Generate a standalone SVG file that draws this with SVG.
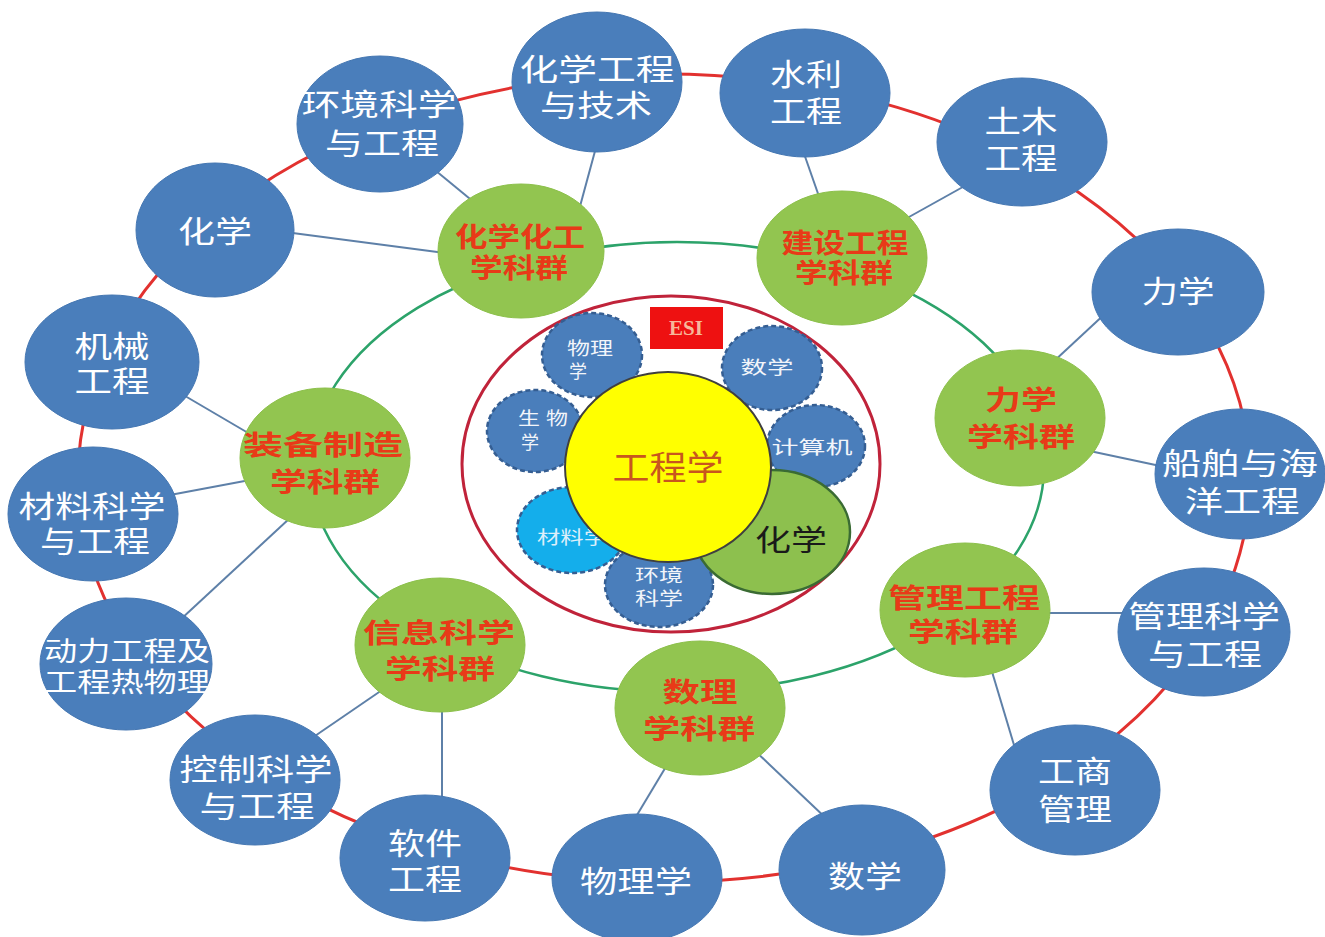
<svg xmlns="http://www.w3.org/2000/svg" width="1325" height="937" viewBox="0 0 1325 937">
<style>
.bg{fill:#ffffff}
.ring-red{fill:none;stroke:#E2312F;stroke-width:3}
.ring-green{fill:none;stroke:#2CA36A;stroke-width:2.5}
.link{stroke:#5E80A8;stroke-width:2;fill:none}
.blue{fill:#4A7EBB;stroke:#4577B2;stroke-width:1}
.green{fill:#92C550;stroke:#8CC04B;stroke-width:1}
.dash{fill:#4A7EBB;stroke:#355E92;stroke-width:2.5;stroke-dasharray:5 3}
.dash2{fill:#14AEEB;stroke:#355E92;stroke-width:2.5;stroke-dasharray:5 3}
.esi-ring{fill:none;stroke:#C0233A;stroke-width:3}
text{font-family:"Liberation Sans","Noto Sans CJK SC",sans-serif;dominant-baseline:central;text-anchor:middle}
.tb{fill:#ffffff;font-size:30px}
.tg{fill:#E83A18;font-size:27px;font-weight:bold}
.ts{fill:#F2F5FA;font-size:18px}
</style>
<rect class="bg" x="0" y="0" width="1325" height="937"/>
<g id="connectors">
  <ellipse class="ring-red" cx="664" cy="478" rx="586" ry="404"/>
  <ellipse class="ring-green" cx="677" cy="467" rx="367" ry="225"/>
  <line class="link" x1="285" y1="232" x2="445" y2="253"/>
  <line class="link" x1="430" y1="166" x2="475" y2="203"/>
  <line class="link" x1="598" y1="140" x2="579" y2="210"/>
  <line class="link" x1="801" y1="145" x2="822" y2="205"/>
  <line class="link" x1="970" y1="183" x2="900" y2="222"/>
  <line class="link" x1="1108" y1="311" x2="1052" y2="363"/>
  <line class="link" x1="1085" y1="450" x2="1165" y2="467"/>
  <line class="link" x1="1040" y1="613" x2="1128" y2="613"/>
  <line class="link" x1="990" y1="665" x2="1017" y2="755"/>
  <line class="link" x1="670" y1="760" x2="634" y2="820"/>
  <line class="link" x1="752" y1="748" x2="830" y2="822"/>
  <line class="link" x1="385" y1="688" x2="312" y2="738"/>
  <line class="link" x1="442" y1="705" x2="442" y2="800"/>
  <line class="link" x1="180" y1="393" x2="255" y2="437"/>
  <line class="link" x1="170" y1="495" x2="250" y2="480"/>
  <line class="link" x1="180" y1="620" x2="290" y2="518"/>
</g>
<g id="n-huanjing"><ellipse class="blue" cx="380" cy="124" rx="83" ry="68"/><text class="tb"><tspan x="379" y="104" textLength="155" lengthAdjust="spacingAndGlyphs">环境科学</tspan><tspan x="382" y="143" textLength="114" lengthAdjust="spacingAndGlyphs">与工程</tspan></text></g>
<g id="n-huagong"><ellipse class="blue" cx="597" cy="82" rx="85" ry="70"/><text class="tb"><tspan x="597" y="69" textLength="155" lengthAdjust="spacingAndGlyphs">化学工程</tspan><tspan x="596" y="105" textLength="112" lengthAdjust="spacingAndGlyphs">与技术</tspan></text></g>
<g id="n-shuili"><ellipse class="blue" cx="805" cy="93" rx="85" ry="64"/><text class="tb"><tspan x="806" y="74" textLength="72" lengthAdjust="spacingAndGlyphs">水利</tspan><tspan x="806" y="111" textLength="72" lengthAdjust="spacingAndGlyphs">工程</tspan></text></g>
<g id="n-tumu"><ellipse class="blue" cx="1022" cy="142" rx="85" ry="64"/><text class="tb"><tspan x="1021" y="121" textLength="73" lengthAdjust="spacingAndGlyphs">土木</tspan><tspan x="1021" y="158" textLength="73" lengthAdjust="spacingAndGlyphs">工程</tspan></text></g>
<g id="n-lixue"><ellipse class="blue" cx="1178" cy="292" rx="86" ry="63"/><text class="tb" x="1178" y="291" textLength="73" lengthAdjust="spacingAndGlyphs">力学</text></g>
<g id="n-chuanbo"><ellipse class="blue" cx="1240" cy="474" rx="85" ry="65"/><text class="tb"><tspan x="1240" y="463" textLength="156" lengthAdjust="spacingAndGlyphs">船舶与海</tspan><tspan x="1242" y="501" textLength="115" lengthAdjust="spacingAndGlyphs">洋工程</tspan></text></g>
<g id="n-guanlikx"><ellipse class="blue" cx="1204" cy="632" rx="86" ry="64"/><text class="tb"><tspan x="1204" y="616" textLength="152" lengthAdjust="spacingAndGlyphs">管理科学</tspan><tspan x="1205" y="654" textLength="114" lengthAdjust="spacingAndGlyphs">与工程</tspan></text></g>
<g id="n-gongshang"><ellipse class="blue" cx="1075" cy="790" rx="85" ry="65"/><text class="tb"><tspan x="1075" y="771" textLength="74" lengthAdjust="spacingAndGlyphs">工商</tspan><tspan x="1075" y="809" textLength="74" lengthAdjust="spacingAndGlyphs">管理</tspan></text></g>
<g id="n-shuxue"><ellipse class="blue" cx="862" cy="870" rx="83" ry="65"/><text class="tb" x="865" y="876" textLength="74" lengthAdjust="spacingAndGlyphs">数学</text></g>
<g id="n-wulixue"><ellipse class="blue" cx="637" cy="878" rx="85" ry="64"/><text class="tb" x="636" y="881" textLength="112" lengthAdjust="spacingAndGlyphs">物理学</text></g>
<g id="n-ruanjian"><ellipse class="blue" cx="425" cy="858" rx="85" ry="63"/><text class="tb"><tspan x="425" y="843" textLength="74" lengthAdjust="spacingAndGlyphs">软件</tspan><tspan x="425" y="879" textLength="74" lengthAdjust="spacingAndGlyphs">工程</tspan></text></g>
<g id="n-kongzhi"><ellipse class="blue" cx="255" cy="780" rx="85" ry="65"/><text class="tb"><tspan x="256" y="769" textLength="153" lengthAdjust="spacingAndGlyphs">控制科学</tspan><tspan x="257" y="806" textLength="115" lengthAdjust="spacingAndGlyphs">与工程</tspan></text></g>
<g id="n-dongli"><ellipse class="blue" cx="126" cy="664" rx="86" ry="66"/><text class="tb" style="font-size:27px"><tspan x="127" y="652" textLength="166" lengthAdjust="spacingAndGlyphs">动力工程及</tspan><tspan x="127" y="683" textLength="166" lengthAdjust="spacingAndGlyphs">工程热物理</tspan></text></g>
<g id="n-cailiao"><ellipse class="blue" cx="93" cy="514" rx="85" ry="67"/><text class="tb"><tspan x="92" y="506" textLength="147" lengthAdjust="spacingAndGlyphs">材料科学</tspan><tspan x="95" y="541" textLength="110" lengthAdjust="spacingAndGlyphs">与工程</tspan></text></g>
<g id="n-jixie"><ellipse class="blue" cx="112" cy="362" rx="87" ry="67"/><text class="tb"><tspan x="112" y="346" textLength="75" lengthAdjust="spacingAndGlyphs">机械</tspan><tspan x="112" y="381" textLength="75" lengthAdjust="spacingAndGlyphs">工程</tspan></text></g>
<g id="n-huaxue"><ellipse class="blue" cx="215" cy="230" rx="79" ry="67"/><text class="tb" x="215" y="231" textLength="74" lengthAdjust="spacingAndGlyphs">化学</text></g>

<g id="g-huahua"><ellipse class="green" cx="521" cy="251" rx="83" ry="67"/><text class="tg"><tspan x="520" y="238" textLength="130" lengthAdjust="spacingAndGlyphs">化学化工</tspan><tspan x="519" y="269" textLength="98" lengthAdjust="spacingAndGlyphs">学科群</tspan></text></g>
<g id="g-jianshe"><ellipse class="green" cx="842" cy="258" rx="85" ry="67"/><text class="tg"><tspan x="845" y="244" textLength="127" lengthAdjust="spacingAndGlyphs">建设工程</tspan><tspan x="844" y="274" textLength="98" lengthAdjust="spacingAndGlyphs">学科群</tspan></text></g>
<g id="g-lixue"><ellipse class="green" cx="1020" cy="418" rx="85" ry="68"/><text class="tg"><tspan x="1021" y="401" textLength="72" lengthAdjust="spacingAndGlyphs">力学</tspan><tspan x="1021" y="438" textLength="108" lengthAdjust="spacingAndGlyphs">学科群</tspan></text></g>
<g id="g-guanli"><ellipse class="green" cx="965" cy="610" rx="85" ry="67"/><text class="tg"><tspan x="964" y="599" textLength="152" lengthAdjust="spacingAndGlyphs">管理工程</tspan><tspan x="963" y="633" textLength="110" lengthAdjust="spacingAndGlyphs">学科群</tspan></text></g>
<g id="g-shuli"><ellipse class="green" cx="700" cy="708" rx="85" ry="67"/><text class="tg"><tspan x="700" y="693" textLength="75" lengthAdjust="spacingAndGlyphs">数理</tspan><tspan x="699" y="730" textLength="112" lengthAdjust="spacingAndGlyphs">学科群</tspan></text></g>
<g id="g-xinxi"><ellipse class="green" cx="440" cy="645" rx="85" ry="67"/><text class="tg"><tspan x="439" y="634" textLength="152" lengthAdjust="spacingAndGlyphs">信息科学</tspan><tspan x="440" y="670" textLength="110" lengthAdjust="spacingAndGlyphs">学科群</tspan></text></g>
<g id="g-zhuangbei"><ellipse class="green" cx="325" cy="458" rx="85" ry="70"/><text class="tg"><tspan x="323" y="446" textLength="160" lengthAdjust="spacingAndGlyphs">装备制造</tspan><tspan x="325" y="483" textLength="110" lengthAdjust="spacingAndGlyphs">学科群</tspan></text></g>

<g id="esi">
  <ellipse class="esi-ring" cx="671" cy="464" rx="209" ry="168"/>
  <g id="esi-label"><rect x="650" y="307" width="73" height="42" fill="#EE1111"/><text x="686" y="328" style="font-family:'Liberation Serif',serif;font-weight:bold;font-size:21px;fill:#F6B89A">ESI</text></g>
  <g id="c-wuli"><ellipse class="dash" cx="592" cy="355" rx="50" ry="42"/><text class="ts"><tspan x="590" y="349" textLength="46" lengthAdjust="spacingAndGlyphs">物理</tspan><tspan x="578" y="372">学</tspan></text></g>
  <g id="c-shuxue"><ellipse class="dash" cx="772" cy="368" rx="50" ry="42"/><text class="ts" x="767" y="368" textLength="53" lengthAdjust="spacingAndGlyphs">数学</text></g>
  <g id="c-shengwu"><ellipse class="dash" cx="535" cy="431" rx="48" ry="41"/><text class="ts"><tspan x="543" y="419" textLength="50" lengthAdjust="spacingAndGlyphs">生 物</tspan><tspan x="530" y="443">学</tspan></text></g>
  <g id="c-jisuanji"><ellipse class="dash" cx="816" cy="446" rx="49" ry="41"/><text class="ts" x="812" y="448" textLength="81" lengthAdjust="spacingAndGlyphs">计算机</text></g>
  <g id="c-cailiao"><ellipse class="dash2" cx="572" cy="530" rx="55" ry="43"/><text class="ts" x="572" y="538" textLength="70" lengthAdjust="spacingAndGlyphs" style="fill:#DDEFFA">材料学</text></g>
  <g id="c-huanjing"><ellipse class="dash" cx="659" cy="585" rx="54" ry="42"/><text class="ts"><tspan x="659" y="576" textLength="48" lengthAdjust="spacingAndGlyphs">环境</tspan><tspan x="659" y="599" textLength="48" lengthAdjust="spacingAndGlyphs">科学</tspan></text></g>
  <g id="c-huaxue"><ellipse cx="772" cy="532" rx="78" ry="62" fill="#8DC04E" stroke="#3A6B33" stroke-width="2.5"/><text x="791" y="541" textLength="72" lengthAdjust="spacingAndGlyphs" style="font-size:29px;fill:#1A1A1A">化学</text></g>
  <g id="c-gongcheng"><ellipse cx="668" cy="467" rx="103" ry="95" fill="#FFFF00" stroke="#3F3F3F" stroke-width="2"/><text x="668" y="468" textLength="111" lengthAdjust="spacingAndGlyphs" style="font-size:34px;fill:#C8561E">工程学</text></g>
</g>
</svg>
